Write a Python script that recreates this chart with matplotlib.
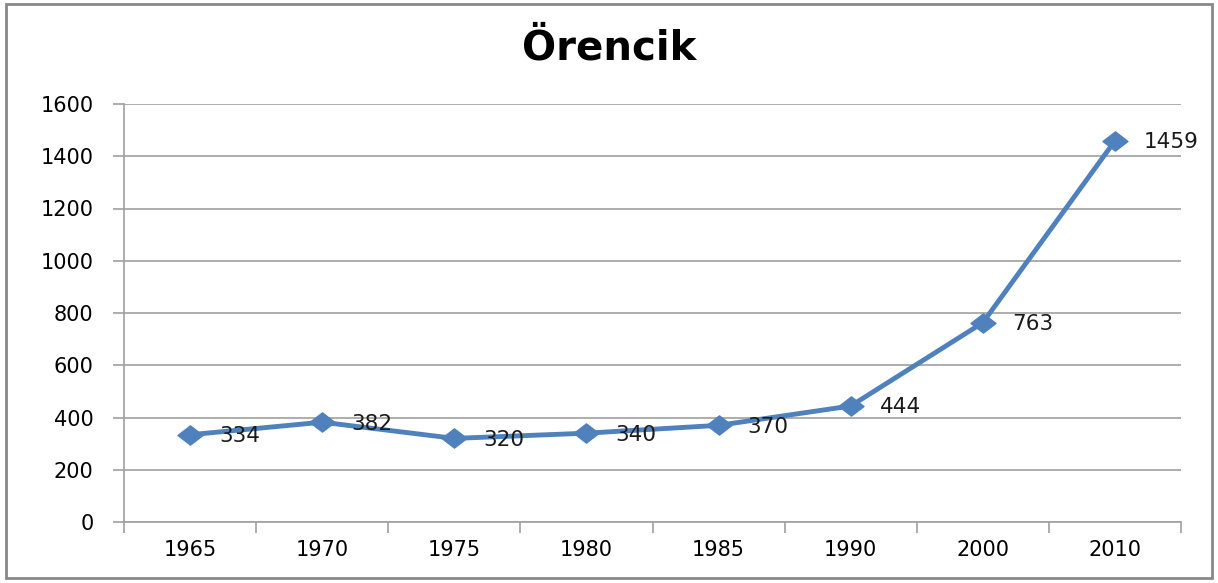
import matplotlib.pyplot as plt
import numpy as np
from matplotlib.path import Path

years = ["1965", "1970", "1975", "1980", "1985", "1990", "2000", "2010"]
population = [334, 382, 320, 340, 370, 444, 763, 1459]
y_ticks = [0, 200, 400, 600, 800, 1000, 1200, 1400, 1600]

line_color = "#4F81BD"
grid_color = "#A0A0A0"

# wide diamond like the Excel marker
diamond = Path([(-1.3, 0), (0, 1), (1.3, 0), (0, -1), (-1.3, 0)],
               [Path.MOVETO, Path.LINETO, Path.LINETO, Path.LINETO, Path.CLOSEPOLY])

fig = plt.figure(figsize=(12.18, 5.83), dpi=100)
ax = fig.add_axes([124 / 1218, 61 / 583, 1057 / 1218, 418 / 583])

x = np.arange(len(years))
ax.plot(x, population, color=line_color, linewidth=3.5, marker=diamond,
        markersize=18, zorder=3)
for xi, v in zip(x, population):
    ax.annotate(str(v), (xi, v), xytext=(21, -1), textcoords="offset points",
                ha="left", va="center", fontsize=15.5, color="#1a1a1a",
                family="DejaVu Sans")

ax.set_xlim(-0.5, len(years) - 0.5)
ax.set_ylim(0, 1600)
ax.set_yticks(y_ticks)
ax.set_yticklabels([str(t) for t in y_ticks], fontsize=15)
ax.set_xticks(x)
ax.set_xticklabels(years, fontsize=15)
ax.set_xticks(np.arange(-0.5, len(years)), minor=True)
ax.tick_params(axis="x", which="major", length=0, pad=13)
ax.tick_params(axis="x", which="minor", length=8, color=grid_color, width=1.2)
ax.tick_params(axis="y", length=8, color=grid_color, width=1.2, pad=14)
ax.yaxis.grid(True, color=grid_color, linewidth=1.2)
ax.set_axisbelow(True)
for s in ["top", "right"]:
    ax.spines[s].set_visible(False)
for s in ["left", "bottom"]:
    ax.spines[s].set_color(grid_color)
    ax.spines[s].set_linewidth(1.2)

fig.text(0.5, 1 - 48 / 583, "Örencik", ha="center", va="center",
         fontsize=29, fontweight="bold", family="DejaVu Sans")

border = plt.Rectangle((6 / 1218, 5 / 583), 1206 / 1218, 574 / 583,
                       transform=fig.transFigure, fill=False,
                       edgecolor="#888888", linewidth=2)
fig.patches.append(border)

fig.savefig("out.png", dpi=100)
